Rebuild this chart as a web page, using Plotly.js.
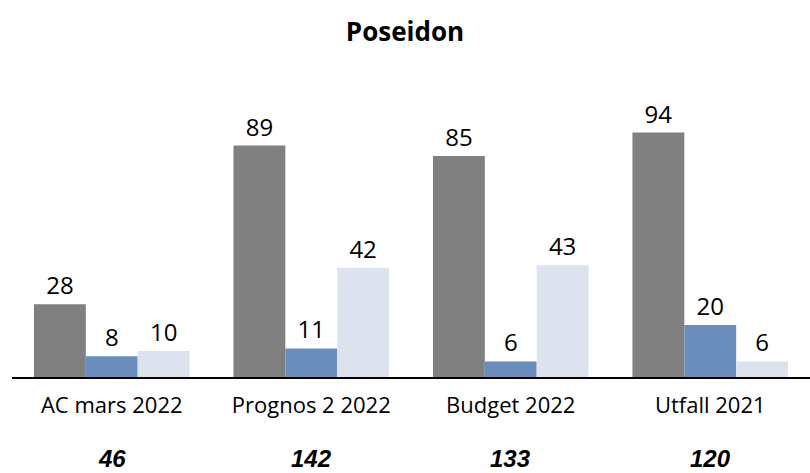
<!DOCTYPE html>
<html>
<head>
<meta charset="utf-8">
<script src="https://cdn.plot.ly/plotly-3.0.1.min.js"></script>
<style>html,body{margin:0;padding:0;background:#fff}#chart{width:810px;height:473px}</style>
</head>
<body>
<div id="chart"></div>
<script>
const categories = ["AC mars 2022", "Prognos 2 2022", "Budget 2022", "Utfall 2021"];
const seriesA = [28, 89, 85, 94];
const seriesB = [8, 11, 6, 20];
const seriesC = [10, 42, 43, 6];
const totals = ["46", "142", "133", "120"];
const colors = ["#808080", "#6b8dbb", "#dce3ee"];

const font = "Open Sans, Liberation Sans, sans-serif";
const mk = (vals, color) => ({
  type: "bar", x: categories, y: vals, text: vals.map(String),
  textposition: "outside", cliponaxis: false,
  textfont: {family: font, size: 24, color: "#000"},
  marker: {color: color}, hoverinfo: "none", showlegend: false
});
const data = [mk(seriesA, colors[0]), mk(seriesB, colors[1]), mk(seriesC, colors[2])];

const annotations = categories.map((c, i) => ({
  x: c, y: -0.312, xref: "x", yref: "paper", yanchor: "middle",
  text: "<b><i>" + totals[i] + "</i></b>",
  showarrow: false, font: {family: "Liberation Sans, Arial, sans-serif", size: 24, color: "#000"}
}));

const layout = {
  width: 810, height: 473,
  margin: {l: 12, r: 0, t: 117, b: 96},
  paper_bgcolor: "#fff", plot_bgcolor: "#fff",
  title: {text: "<b>Poseidon</b>", font: {family: font, size: 26, color: "#000"}, x: 0.5, xanchor: "center", y: 0.932, yanchor: "middle"},
  barmode: "group", bargap: 0.22, bargroupgap: 0,
  xaxis: {showline: true, linecolor: "#000", linewidth: 1.5, ticks: "", ticklabelstandoff: 8,
          tickfont: {family: font, size: 22, color: "#000"}, fixedrange: true},
  yaxis: {range: [0, 100], visible: false, showgrid: false, zeroline: false},
  annotations: annotations
};
Plotly.newPlot("chart", data, layout, {displayModeBar: false, staticPlot: true});
</script>
</body>
</html>
